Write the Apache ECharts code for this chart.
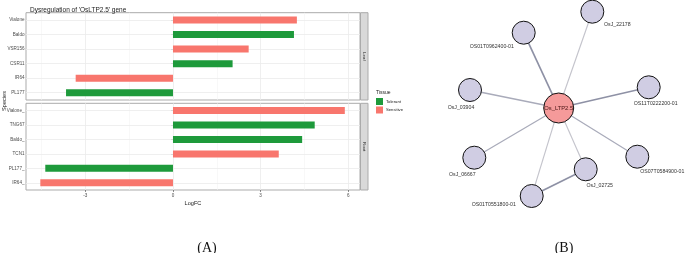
<!DOCTYPE html>
<html><head><meta charset="utf-8">
<script src="https://cdn.jsdelivr.net/npm/echarts@6/dist/echarts.min.js"></script>
<style>html,body{margin:0;padding:0;background:#fff}#c{width:685px;height:253px}</style>
</head><body><div id="c"></div>
<script>
// ---- Panel A data ----
const leafSpecies   = ['Vialone','Baldo','VSR156','CSR11','IR64','PL177'];
const leafTolerant  = [null, 4.14, null, 2.04, null, -3.66];
const leafSensitive = [4.24, null, 2.59, null, -3.33, null];
const rootSpecies   = ['Vialone_','TNG67','Baldo_','TCN1','PL177_','IR64_'];
const rootTolerant  = [null, 4.85, 4.42, null, -4.37, null];
const rootSensitive = [5.88, null, null, 3.62, null, -4.54];
const xTicks = [-3, 0, 3, 6];
const xMinor = [-4.5, -1.5, 1.5, 4.5];
const tissues = ['Tolerant', 'Sensitive'];
// ---- Panel B data (network layout) ----
const nodeNames = ['Os_LTP2.5','OsJ_22178','OS01T0962400-01','OsJ_03904','OS11T0222200-01','OsJ_06667','OsJ_02725','OS07T0584900-01','OS01T0551800-01'];
const nodeX = [138.7, 172.3, 103.7, 50.0, 228.7, 54.3, 165.7, 217.3, 111.7];
const nodeY = [108.0, 11.7, 32.7, 90.0, 87.3, 157.7, 169.3, 156.7, 196.0];
const edgeSource = ['Os_LTP2.5','Os_LTP2.5','Os_LTP2.5','Os_LTP2.5','Os_LTP2.5','Os_LTP2.5','Os_LTP2.5','Os_LTP2.5','OsJ_02725'];
const edgeTarget = ['OsJ_22178','OS01T0962400-01','OsJ_03904','OS11T0222200-01','OsJ_06667','OsJ_02725','OS07T0584900-01','OS01T0551800-01','OS01T0551800-01'];
const edgeWeight = [0.5, 1.0, 0.7, 0.85, 0.6, 0.5, 0.6, 0.45, 1.0];

const GREEN = '#1E9A3B', SALMON = '#F8766D';
const FONT = 'Liberation Sans';
const labelOffsets = [[0,0],[25,13],[-32,14],[-9,18],[7,16],[-12,17],[14,16],[25,15],[-38,9]];

const nodes = nodeNames.map((n, i) => ({
  name: n, value: [nodeX[i], nodeY[i]],
  symbolSize: i === 0 ? 30 : 23,
  itemStyle: { color: i === 0 ? '#F59A9A' : '#D0CDE3', borderColor: '#111', borderWidth: 1 },
  label: { show: true, position: 'inside', offset: labelOffsets[i], fontSize: i === 0 ? 5.8 : 5.2,
           color: i === 0 ? '#4a1515' : '#333', fontFamily: FONT }
}));
const links = edgeSource.map((s, i) => ({
  source: s, target: edgeTarget[i],
  lineStyle: { width: 0.6 + edgeWeight[i] * 1.1, color: edgeWeight[i] > 0.8 ? '#8E91A5' : (edgeWeight[i] > 0.55 ? '#A9ABBA' : '#C4C4CC'), opacity: 1 }
}));

function gridLines(cats) {
  const d = [];
  xMinor.forEach(v => d.push({ xAxis: v, lineStyle: { color: '#F3F3F3', width: 0.6 } }));
  xTicks.forEach(v => d.push({ xAxis: v, lineStyle: { color: '#EBEBEB', width: 0.8 } }));
  cats.forEach(c => d.push({ yAxis: c, lineStyle: { color: '#EBEBEB', width: 0.8 } }));
  return d;
}
function helper(idx, cats) {
  return { type: 'line', xAxisIndex: idx, yAxisIndex: idx, data: [], z: 0, silent: true,
    markLine: { silent: true, symbol: 'none', label: { show: false }, animation: false,
      lineStyle: { type: 'solid' }, data: gridLines(cats) } };
}
function bar(idx, name, data, color) {
  return { type: 'bar', name, xAxisIndex: idx, yAxisIndex: idx, data, stack: 's' + idx, barWidth: 7, zlevel: 1, z: 3,
    itemStyle: { color } };
}
const xBase = { type: 'value', min: -5.03, max: 6.4, splitLine: { show: false }, axisLine: { show: false } };
const yBase = (cats) => ({ type: 'category', data: cats, inverse: true,
  axisLine: { show: false }, splitLine: { show: false },
  axisTick: { show: true, alignWithLabel: true, length: 2, lineStyle: { color: '#444', width: 0.6 } },
  axisLabel: { fontSize: 4.6, color: '#4D4D4D', margin: 1.5, fontFamily: FONT } });

const option = {
  animation: false,
  textStyle: { fontFamily: FONT },
  title: [
    { text: "Dysregulation of 'OsLTP2.5' gene", left: 25, top: 2, textStyle: { fontSize: 6.5, fontWeight: 'normal', color: '#222', fontFamily: FONT } },
    { text: '(A)', left: 202, top: 236, textAlign: 'center', textStyle: { fontSize: 14, fontWeight: 'normal', color: '#111', fontFamily: 'Liberation Serif' } },
    { text: '(B)', left: 559, top: 236, textAlign: 'center', textStyle: { fontSize: 14, fontWeight: 'normal', color: '#111', fontFamily: 'Liberation Serif' } }
  ],
  legend: { data: tissues, orient: 'vertical', left: 376, top: 98, itemWidth: 7, itemHeight: 7, itemGap: 1.5, padding: 0,
    icon: 'rect', textStyle: { fontSize: 4.2, color: '#222', padding: [0, 0, 0, -2] } },
  grid: [
    { left: 26, top: 12.7, width: 334, height: 87.3, show: true, borderColor: '#ABABAB', borderWidth: 1, backgroundColor: '#fff' },
    { left: 26, top: 103.3, width: 334, height: 86.7, show: true, borderColor: '#ABABAB', borderWidth: 1, backgroundColor: '#fff' },
    { left: 420, top: 0, width: 265, height: 253, show: false }
  ],
  xAxis: [
    Object.assign({ gridIndex: 0, axisTick: { show: false }, axisLabel: { show: false } }, xBase),
    Object.assign({ gridIndex: 1, name: 'LogFC', nameLocation: 'middle', nameGap: 10,
      nameTextStyle: { fontSize: 5.6, color: '#222', fontFamily: FONT },
      axisTick: { show: true, customValues: xTicks, length: 2, lineStyle: { color: '#444', width: 0.6 } },
      axisLabel: { show: true, customValues: xTicks, fontSize: 4.6, color: '#4D4D4D', margin: 3, fontFamily: FONT } }, xBase),
    { gridIndex: 2, type: 'value', min: 0, max: 265, show: false }
  ],
  yAxis: [
    Object.assign({ gridIndex: 0 }, yBase(leafSpecies)),
    Object.assign({ gridIndex: 1 }, yBase(rootSpecies)),
    { gridIndex: 2, type: 'value', min: 0, max: 253, inverse: true, show: false }
  ],
  graphic: [
    { type: 'rect', shape: { x: 360.5, y: 12.7, width: 7.5, height: 87.3 }, style: { fill: '#D9D9D9', stroke: '#ABABAB', lineWidth: 1 } },
    { type: 'rect', shape: { x: 360.5, y: 103.3, width: 7.5, height: 86.7 }, style: { fill: '#D9D9D9', stroke: '#ABABAB', lineWidth: 1 } },
    { type: 'text', x: 364.3, y: 56.4, rotation: -Math.PI / 2, style: { text: 'Leaf', fontSize: 4.4, fill: '#1A1A1A', align: 'center', verticalAlign: 'middle', fontFamily: FONT } },
    { type: 'text', x: 364.3, y: 146.6, rotation: -Math.PI / 2, style: { text: 'Root', fontSize: 4.4, fill: '#1A1A1A', align: 'center', verticalAlign: 'middle', fontFamily: FONT } },
    { type: 'text', x: 4.5, y: 101, rotation: Math.PI / 2, style: { text: 'Species', fontSize: 5.6, fill: '#222', align: 'center', verticalAlign: 'middle', fontFamily: FONT } },
    { type: 'text', x: 376, y: 92.5, style: { text: 'Tissue', fontSize: 5, fill: '#222', align: 'left', verticalAlign: 'middle', fontFamily: FONT } }
  ],
  series: [
    helper(0, leafSpecies),
    helper(1, rootSpecies),
    bar(0, 'Tolerant', leafTolerant, GREEN),
    bar(0, 'Sensitive', leafSensitive, SALMON),
    bar(1, 'Tolerant', rootTolerant, GREEN),
    bar(1, 'Sensitive', rootSensitive, SALMON),
    { type: 'graph', coordinateSystem: 'cartesian2d', xAxisIndex: 2, yAxisIndex: 2, symbol: 'circle',
      data: nodes, links: links, edgeSymbol: ['none', 'none'], z: 3, emphasis: { disabled: true } }
  ]
};
const chart = echarts.init(document.getElementById('c'), null, { renderer: 'canvas' });
chart.setOption(option);
</script></body></html>
